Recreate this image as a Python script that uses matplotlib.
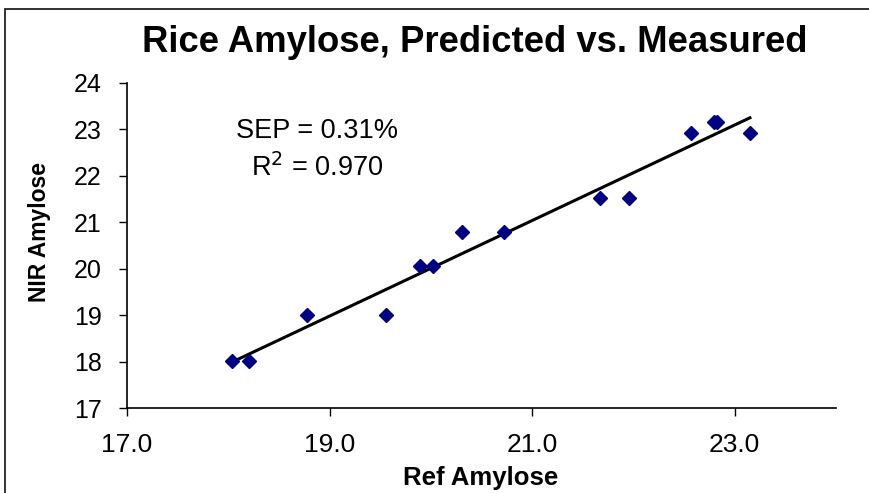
import numpy as np
import matplotlib
matplotlib.use('Agg')
import matplotlib.pyplot as plt
from matplotlib.patches import Rectangle

plt.rcParams['font.family'] = ['Liberation Sans', 'DejaVu Sans']

# Data
ref_amylose = [18.04, 18.20, 18.78, 19.56, 19.89, 20.02, 20.31, 20.72,
               21.67, 21.96, 22.57, 22.80, 22.83, 23.15]
nir_amylose = [18.02, 18.02, 19.00, 19.00, 20.06, 20.06, 20.78, 20.78,
               21.51, 21.51, 22.92, 23.15, 23.15, 22.92]
x_ticks = [17.0, 19.0, 21.0, 23.0]
y_ticks = [17, 18, 19, 20, 21, 22, 23, 24]

x = np.array(ref_amylose)
y = np.array(nir_amylose)
slope, icpt = np.polyfit(x, y, 1)
xf = np.array([x.min(), x.max()])

fig = plt.figure(figsize=(8.7, 4.93), dpi=100)
ax = fig.add_axes([127/870, 1 - 408/493, (836 - 127)/870, (408 - 82.7)/493])

ax.plot(x, y, 'D', color='#000080', markersize=7, zorder=3)
ax.plot(xf, slope*xf + icpt, 'k-', lw=2.2, zorder=2)

ax.set_xlim(17, 24)
ax.set_ylim(17, 24)
ax.set_xticks(x_ticks)
ax.set_xticklabels([f'{t:.1f}' for t in x_ticks])
ax.set_yticks(y_ticks)
ax.tick_params(length=6, width=1, direction='out')
ax.tick_params(axis='x', labelsize=19, pad=12)
ax.tick_params(axis='y', labelsize=18, pad=12)
for s in ['top', 'right']:
    ax.spines[s].set_visible(False)
for s in ['left', 'bottom']:
    ax.spines[s].set_linewidth(1.2)

ax.set_xlabel('Ref Amylose', fontsize=18.5, fontweight='bold', va='baseline')
ax.xaxis.set_label_coords(0.499, -0.237)
ax.set_ylabel('NIR Amylose', fontsize=16.5, fontweight='bold', va='center', ha='center')
ax.yaxis.set_label_coords(-0.124, 0.541)

fig.text(475/870, 1 - 52/493, 'Rice Amylose, Predicted vs. Measured',
         fontsize=26.3, fontweight='bold', ha='center', va='baseline')

ax.text(0.268, 0.852, 'SEP = 0.31%', transform=ax.transAxes,
        fontsize=19.5, ha='center', va='center')
ax.text(0.268, 0.738, r'R$^2$ = 0.970', transform=ax.transAxes,
        fontsize=19.5, ha='center', va='center')

# chart area border
fig.patches.append(Rectangle((5/870, -0.1), 2, 1.1 - 9/493, transform=fig.transFigure,
                             fill=False, edgecolor='#222222', lw=1.3))

fig.savefig('out.png', dpi=100)
